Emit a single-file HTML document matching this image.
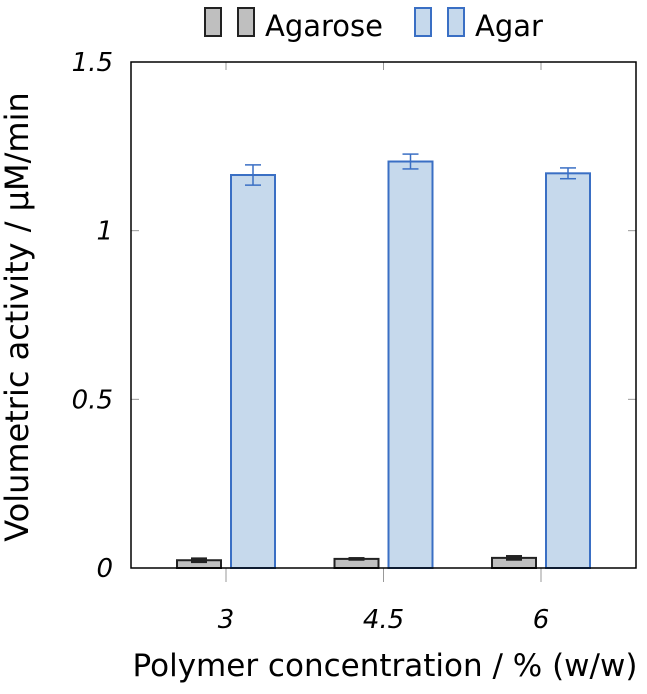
<!DOCTYPE html>
<html><head><meta charset="utf-8"><style>
body{margin:0;background:#fff;}
text{font-family:"DejaVu Sans","Liberation Sans",sans-serif;}
</style></head><body>
<svg width="647" height="689" id="svg">
<g id="g"></g>
</svg>
<script>
const categories=["3","4.5","6"];
const agarose=[0.023,0.027,0.03];
const agaroseErr=[0.004,0.001,0.004];
const agar=[1.165,1.205,1.17];
const agarErr=[0.03,0.022,0.016];
const yTicks=[0,0.5,1,1.5];
const yTickLabels=["0","0.5","1","1.5"];
const L=131,R=636,T=62,B=568;
const ns="http://www.w3.org/2000/svg";
const g=document.getElementById('g');
function y(v){return B-(v/1.5)*(B-T);}
function x(i){return 226+i*157.5;}
function el(t,a,txt){const e=document.createElementNS(ns,t);for(const k in a)e.setAttribute(k,a[k]);if(txt!==undefined)e.textContent=txt;g.appendChild(e);return e;}
yTicks.forEach((v,i)=>{
 const t=el('line',{x1:L,x2:L+8,y1:y(v),y2:y(v),stroke:'#999'});
 
 
 el('line',{x1:R-8,x2:R,y1:y(v),y2:y(v),stroke:'#999'});
 const lb=el('text',{x:L-18,y:y(v)+9,'text-anchor':'end','font-size':26,'font-style':'italic'},yTickLabels[i]);
 
 
});
categories.forEach((c,i)=>{
 el('line',{x1:x(i),x2:x(i),y1:B,y2:B+14,stroke:'#999'});
 el('line',{x1:x(i),x2:x(i),y1:T,y2:T+8,stroke:'#999'});
 const lb=el('text',{x:x(i),y:628,'text-anchor':'middle','font-size':26,'font-style':'italic'},c);
 
 
});
function bar(v,e,cx,fill,stroke,name,capw,ew){
 const b=el('rect',{x:cx-22,y:y(v),width:44,height:B-y(v),fill:fill,stroke:stroke,'stroke-width':2});
 
 
 el('line',{x1:cx,x2:cx,y1:y(v+e),y2:y(v-e),stroke:stroke,'stroke-width':1.5});
 el('line',{x1:cx-capw,x2:cx+capw,y1:y(v+e),y2:y(v+e),stroke:stroke,'stroke-width':ew});
 el('line',{x1:cx-capw,x2:cx+capw,y1:y(v-e),y2:y(v-e),stroke:stroke,'stroke-width':ew});
}
categories.forEach((c,i)=>{
 bar(agarose[i],agaroseErr[i],x(i)-27,'#bfbfbf','#222','bar-agarose-'+c,8,3);
 bar(agar[i],agarErr[i],x(i)+27,'#c6d9ec','#3a6fc4','bar-agar-'+c,8,1.5);
});
const fr=el('rect',{x:L,y:T,width:R-L,height:B-T,fill:'none',stroke:'#000','stroke-width':1.5});


const xt=el('text',{x:385,y:676,'text-anchor':'middle','font-size':31},'Polymer concentration / % (w/w)');


const yt=el('text',{x:0,y:0,'text-anchor':'middle','font-size':32,transform:'translate(28,317) rotate(-90)'},'Volumetric activity / µM/min');


[[205,'#bfbfbf','#222','Agarose','legend-agarose'],[415,'#c6d9ec','#3a6fc4','Agar','legend-agar']].forEach(d=>{
 el('rect',{x:d[0],y:8,width:16,height:28,fill:d[1],stroke:d[2],'stroke-width':2});
 el('rect',{x:d[0]+33,y:8,width:16,height:28,fill:d[1],stroke:d[2],'stroke-width':2});
 const t=el('text',{x:d[0]+60,y:36,'font-size':29},d[3]);
 
 
});
</script>
</body></html>
